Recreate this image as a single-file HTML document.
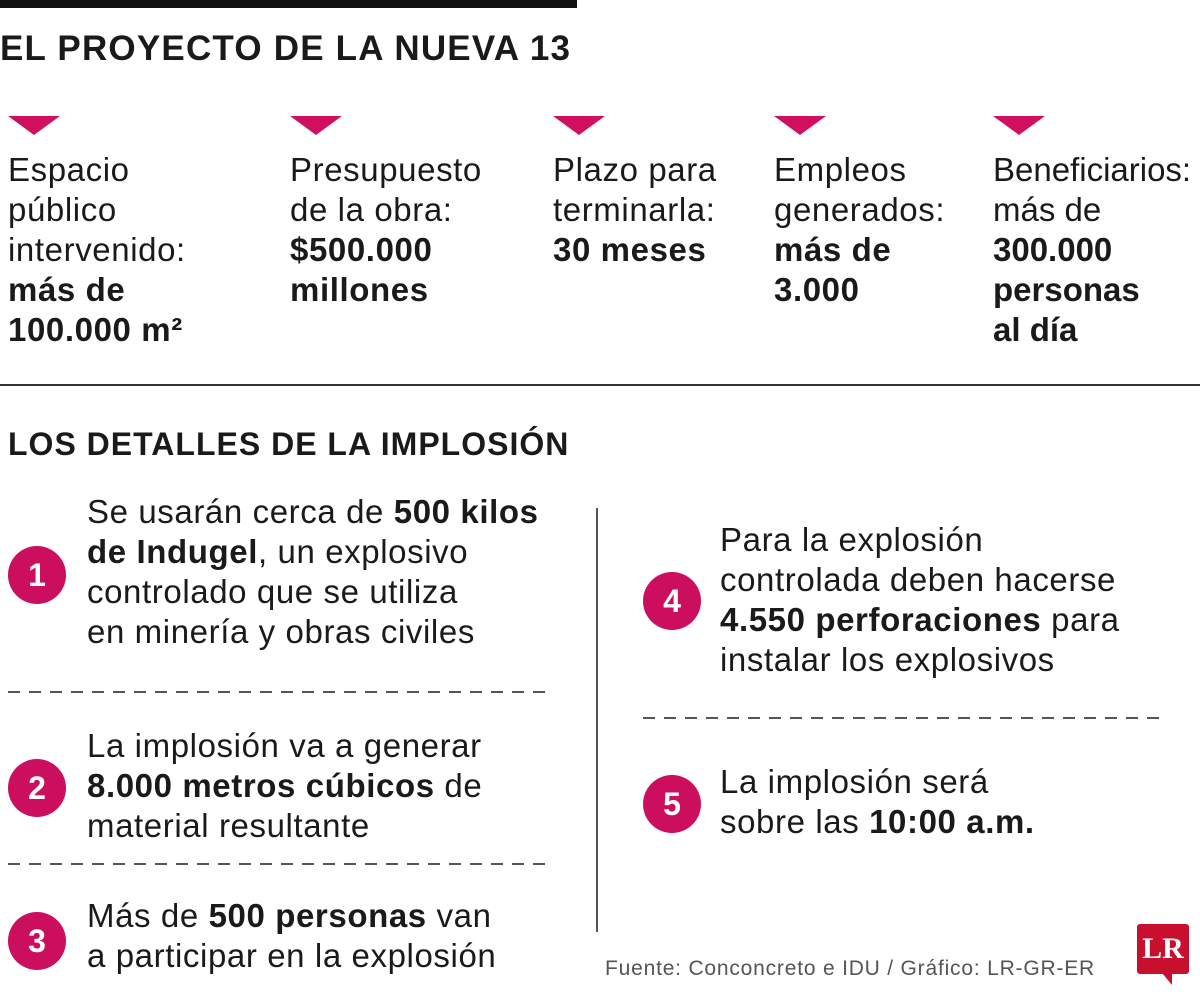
<!DOCTYPE html>
<html><head><meta charset="utf-8"><style>
body{margin:0;width:1200px;height:1001px;background:#fff;position:relative;overflow:hidden;font-family:"Liberation Sans",sans-serif;color:#1a1a1a}
.a{position:absolute;white-space:nowrap}
.t{font-size:33px;line-height:40px;letter-spacing:0.6px}
b{font-weight:bold}
.tri{position:absolute;width:0;height:0;border-left:26px solid transparent;border-right:26px solid transparent;border-top:19px solid #d0105f;top:116px}
.c{position:absolute;width:58px;height:58px;border-radius:50%;background:#cc0e5f;color:#fff;font-weight:bold;font-size:32px;line-height:58px;text-align:center}
svg.d{position:absolute;height:4px}
</style></head><body>
<div class="a" style="left:0;top:0;width:577px;height:8px;background:#111"></div>
<div class="a" style="left:0;top:29px;font-size:35px;font-weight:bold;letter-spacing:1.2px">EL PROYECTO DE LA NUEVA 13</div>
<div class="tri" style="left:8px"></div>
<div class="tri" style="left:290px"></div>
<div class="tri" style="left:553px"></div>
<div class="tri" style="left:774px"></div>
<div class="tri" style="left:993px"></div>
<div class="a t" style="left:8px;top:150px">Espacio<br>público<br>intervenido:<br><b>más de</b><br><b>100.000 m²</b></div>
<div class="a t" style="left:290px;top:150px">Presupuesto<br>de la obra:<br><b>$500.000</b><br><b>millones</b></div>
<div class="a t" style="left:553px;top:150px">Plazo para<br>terminarla:<br><b>30 meses</b></div>
<div class="a t" style="left:774px;top:150px">Empleos<br>generados:<br><b>más de</b><br><b>3.000</b></div>
<div class="a t" style="left:993px;top:150px;letter-spacing:0">Beneficiarios:<br>más de<br><b>300.000</b><br><b>personas</b><br><b>al día</b></div>
<div class="a" style="left:0;top:384px;width:1200px;height:2px;background:#333"></div>
<div class="a" style="left:8px;top:426px;font-size:32px;font-weight:bold;letter-spacing:1px">LOS DETALLES DE LA IMPLOSIÓN</div>
<div class="c" style="left:8px;top:546px">1</div>
<div class="a t" style="left:87px;top:492px">Se usarán cerca de <b>500 kilos</b><br><b>de Indugel</b>, un explosivo<br>controlado que se utiliza<br>en minería y obras civiles</div>
<svg class="d" style="left:8px;top:690px;width:543px"><line x1="0" y1="2" x2="543" y2="2" stroke="#555" stroke-width="2" stroke-dasharray="12 9"/></svg>
<div class="c" style="left:8px;top:759px">2</div>
<div class="a t" style="left:87px;top:726px">La implosión va a generar<br><b>8.000 metros cúbicos</b> de<br>material resultante</div>
<svg class="d" style="left:8px;top:862px;width:543px"><line x1="0" y1="2" x2="543" y2="2" stroke="#555" stroke-width="2" stroke-dasharray="12 9"/></svg>
<div class="c" style="left:8px;top:912px">3</div>
<div class="a t" style="left:87px;top:896px">Más de <b>500 personas</b> van<br>a participar en la explosión</div>
<div class="a" style="left:596px;top:508px;width:2px;height:424px;background:#555"></div>
<div class="c" style="left:643px;top:572px">4</div>
<div class="a t" style="left:720px;top:520px">Para la explosión<br>controlada deben hacerse<br><b>4.550 perforaciones</b> para<br>instalar los explosivos</div>
<svg class="d" style="left:643px;top:716px;width:519px"><line x1="0" y1="2" x2="519" y2="2" stroke="#555" stroke-width="2" stroke-dasharray="12 9"/></svg>
<div class="c" style="left:643px;top:775px">5</div>
<div class="a t" style="left:720px;top:762px">La implosión será<br>sobre las <b>10:00 a.m.</b></div>
<div class="a" style="left:605px;top:957px;font-size:21px;color:#555;letter-spacing:0.8px">Fuente: Conconcreto e IDU / Gráfico: LR-GR-ER</div>
<div class="a" style="left:1137px;top:924px;width:52px;height:50px;background:#c8102e;border-radius:3px;color:#fff;font-family:'Liberation Serif',serif;font-weight:bold;font-size:30px;line-height:50px;text-align:center">LR</div>
<div class="a" style="left:1162px;top:973px;width:0;height:0;border-left:10px solid transparent;border-top:12px solid #c8102e"></div>
</body></html>
